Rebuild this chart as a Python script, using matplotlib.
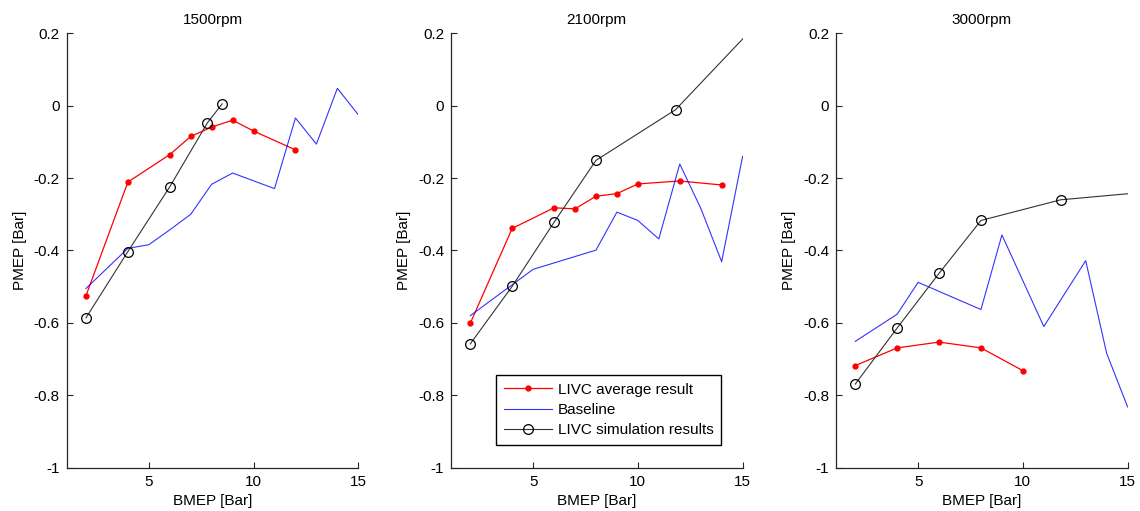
import matplotlib
matplotlib.use("Agg")
import matplotlib.pyplot as plt
from matplotlib.ticker import FixedLocator, FixedFormatter

plt.rcParams['font.family'] = ['Liberation Sans', 'DejaVu Sans']
plt.rcParams['font.size'] = 11

titles = ["1500rpm", "2100rpm", "3000rpm"]

# LIVC average (measured) results
avg_x_1500 = [2, 4, 6, 7, 8, 9, 10, 12]
avg_y_1500 = [-0.525, -0.211, -0.135, -0.085, -0.059, -0.040, -0.070, -0.122]
avg_x_2100 = [2, 4, 6, 7, 8, 9, 10, 12, 14]
avg_y_2100 = [-0.601, -0.339, -0.282, -0.285, -0.250, -0.243, -0.216, -0.208, -0.219]
avg_x_3000 = [2, 4, 6, 8, 10]
avg_y_3000 = [-0.718, -0.669, -0.653, -0.669, -0.732]

# Baseline
base_x_1500 = [2, 4, 5, 6, 7, 8, 9, 11, 12, 13, 14, 15]
base_y_1500 = [-0.505, -0.394, -0.384, -0.343, -0.300, -0.217, -0.186, -0.229, -0.034, -0.106, 0.048, -0.025]
base_x_2100 = [2, 5, 8, 9, 10, 11, 12, 13, 14, 15]
base_y_2100 = [-0.580, -0.452, -0.399, -0.294, -0.317, -0.368, -0.161, -0.283, -0.431, -0.140]
base_x_3000 = [2, 4, 5, 8, 9, 11, 13, 14, 15]
base_y_3000 = [-0.651, -0.576, -0.488, -0.563, -0.357, -0.610, -0.428, -0.684, -0.832]

# LIVC simulation results
sim_x_1500 = [2, 4, 6, 7.8, 8.5]
sim_y_1500 = [-0.586, -0.403, -0.224, -0.047, 0.005]
sim_x_2100 = [2, 4, 6, 8, 11.8, 16]
sim_y_2100 = [-0.658, -0.499, -0.322, -0.151, -0.011, 0.245]
sim_x_3000 = [2, 4, 6, 8, 11.8, 16]
sim_y_3000 = [-0.769, -0.614, -0.463, -0.317, -0.260, -0.238]

avg_x = [avg_x_1500, avg_x_2100, avg_x_3000]
avg_y = [avg_y_1500, avg_y_2100, avg_y_3000]
base_x = [base_x_1500, base_x_2100, base_x_3000]
base_y = [base_y_1500, base_y_2100, base_y_3000]
sim_x = [sim_x_1500, sim_x_2100, sim_x_3000]
sim_y = [sim_y_1500, sim_y_2100, sim_y_3000]

x_ticks = [5, 10, 15]
y_ticks = [-1, -0.8, -0.6, -0.4, -0.2, 0, 0.2]
y_tick_labels = ["-1", "-0.8", "-0.6", "-0.4", "-0.2", "0", "0.2"]

W, H = 1140, 511
fig = plt.figure(figsize=(W / 100, H / 100), dpi=100)

lefts = [66.7, 451.0, 836.0]
ax_width = 291.6
ax_top, ax_bottom = 33.3, 467.7
axis_color = "#262626"

for i in range(3):
    ax = fig.add_axes([lefts[i] / W, 1 - ax_bottom / H,
                       ax_width / W, (ax_bottom - ax_top) / H])
    ax.plot(avg_x[i], avg_y[i], color="red", lw=0.9, marker="o",
            ms=3.5, mec="red", mfc="red", label="LIVC average result")
    ax.plot(base_x[i], base_y[i], color="blue", lw=0.8, alpha=0.8,
            label="Baseline")
    ax.plot(sim_x[i], sim_y[i], color="#333333", lw=0.8, marker="o",
            ms=7, mfc="none", mec="black", mew=0.9,
            label="LIVC simulation results")
    ax.set_xlim(1.08, 15)
    ax.set_ylim(-1, 0.2)
    ax.xaxis.set_major_locator(FixedLocator(x_ticks))
    ax.yaxis.set_major_locator(FixedLocator(y_ticks))
    ax.yaxis.set_major_formatter(FixedFormatter(y_tick_labels))
    for side in ("top", "right"):
        ax.spines[side].set_visible(False)
    for side in ("left", "bottom"):
        ax.spines[side].set_color(axis_color)
        ax.spines[side].set_linewidth(0.9)
    ax.tick_params(direction="in", length=4, width=0.8, color=axis_color,
                   labelsize=11, pad=5)
    ax.set_title(titles[i], fontsize=11, pad=7)
    ax.set_xlabel("BMEP [Bar]", fontsize=11, labelpad=4)
    ax.set_ylabel("PMEP [Bar]", fontsize=11, labelpad=5)
    if i == 1:
        leg = ax.legend(loc="lower left", bbox_to_anchor=(0.154, 0.052),
                        fancybox=False, framealpha=1, edgecolor="black",
                        handlelength=3.2, borderpad=0.5, labelspacing=0.42,
                        handletextpad=0.35, borderaxespad=0, fontsize=11)
        leg.get_frame().set_linewidth(1.0)

fig.savefig("out.png", dpi=100)
